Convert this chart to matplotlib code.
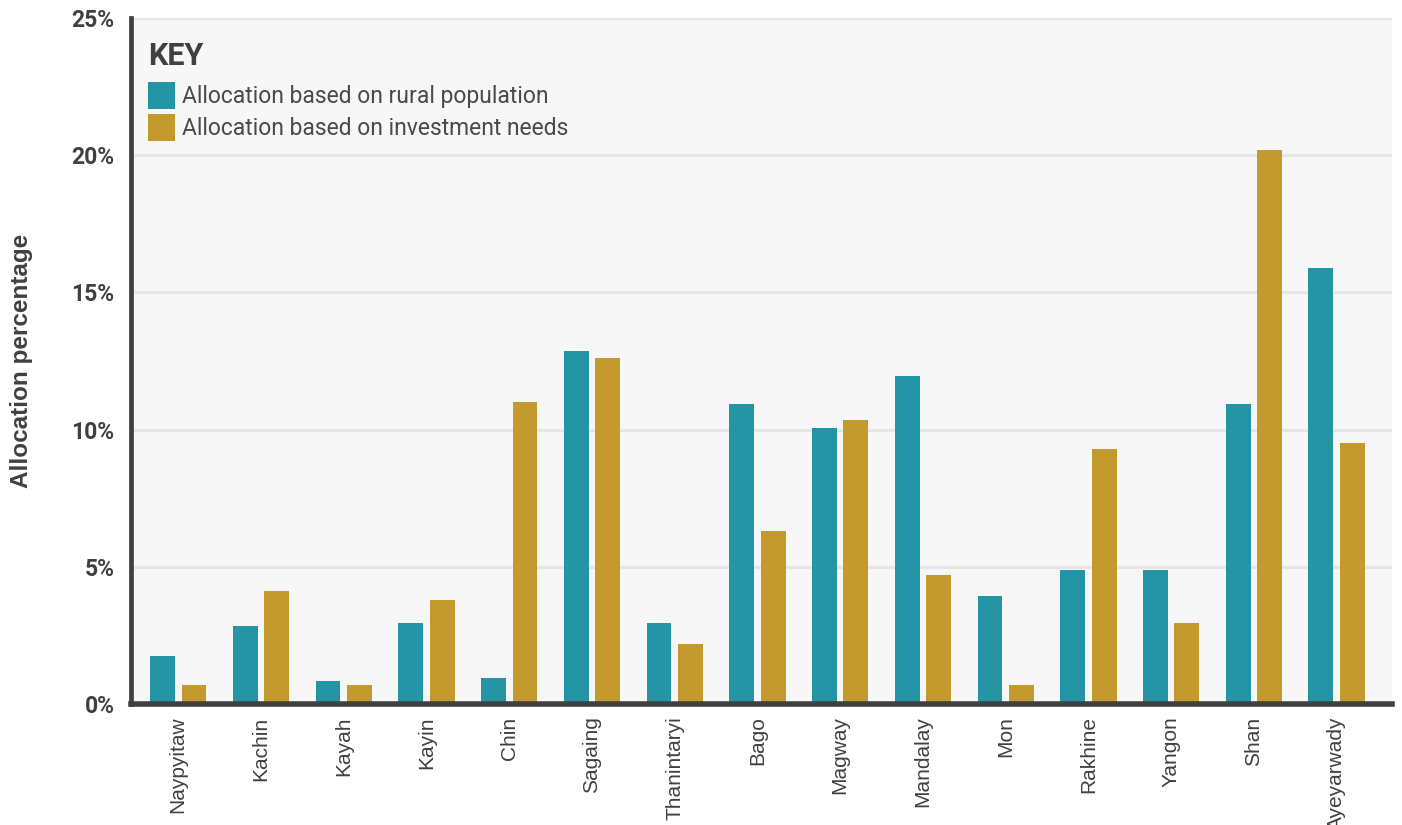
# Rural allocation vs investment-needs allocation by state/region
import numpy as np
import matplotlib.pyplot as plt
from matplotlib.patches import Patch
from matplotlib.ticker import FuncFormatter

# ====== DATA ======
regions = ["Naypyitaw", "Kachin", "Kayah", "Kayin", "Chin", "Sagaing", "Thanintaryi",
           "Bago", "Magway", "Mandalay", "Mon", "Rakhine", "Yangon", "Shan", "Ayeyarwady"]
rural_pop = [1.75, 2.85, 0.85, 2.95, 0.95, 12.85, 2.95, 10.95, 10.05, 11.95, 3.95, 4.9, 4.9, 10.95, 15.9]
invest_needs = [0.7, 4.1, 0.7, 3.8, 11.0, 12.6, 2.2, 6.3, 10.35, 4.7, 0.7, 9.3, 2.95, 20.2, 9.5]
yticks = [0, 5, 10, 15, 20, 25]
labels = ["Allocation based on rural population", "Allocation based on investment needs"]
# ==================

teal = "#2395a4"
gold = "#c4992d"
dark = "#404040"

fig = plt.figure(figsize=(14.02, 8.25), dpi=100)
ax = fig.add_axes([0.0935, 0.1467, 0.8994, 0.8313])
ax.set_facecolor("#f7f7f7")

x = np.arange(len(regions))
w = 0.30
ax.bar(x - 0.19, rural_pop, width=w, color=teal, zorder=3)
ax.bar(x + 0.19, invest_needs, width=w, color=gold, zorder=3)

ax.set_xlim(-0.57, 14.67)
ax.set_ylim(0, 25)
ax.set_yticks(yticks)
ax.yaxis.set_major_formatter(FuncFormatter(lambda v, p: f"{v:.0f}%"))
ax.grid(axis="y", color="#e6e6e6", linewidth=2.2, zorder=1)

for s in ["top", "right"]:
    ax.spines[s].set_visible(False)
ax.spines["left"].set_color(dark)
ax.spines["left"].set_linewidth(3.4)
ax.spines["bottom"].set_color(dark)
ax.spines["bottom"].set_linewidth(4)
ax.spines["left"].set_zorder(4)
ax.spines["bottom"].set_zorder(4)

ax.set_xticks(x)
ax.set_xticklabels(regions, rotation=90, fontsize=15, color=dark, family="Liberation Sans")
ax.tick_params(axis="x", length=0, pad=9)
ax.tick_params(axis="y", length=0, pad=12, labelsize=16.5, labelcolor=dark)
for t in ax.get_yticklabels():
    t.set_family("Roboto")
    t.set_fontweight("bold")

ax.set_ylabel("Allocation percentage", fontsize=17.5, fontweight="bold", color=dark,
              family="Liberation Sans")
ax.yaxis.set_label_coords(-0.078, 0.5)

# legend: title drawn separately so its gap to the entries can be set
ax.text(0.0138, 0.9315, "KEY", transform=ax.transAxes, ha="left", va="baseline",
        family="Roboto", fontweight="bold", fontsize=22, color=dark)
handles = [Patch(facecolor=teal), Patch(facecolor=gold)]
leg = ax.legend(handles, labels, loc="upper left", frameon=False,
                prop={"family": "Roboto", "weight": "normal", "size": 16.5},
                handlelength=1.18, handleheight=1.43,
                handletextpad=0.3, labelspacing=0.2, borderpad=0, borderaxespad=0,
                bbox_to_anchor=(0.0135, 0.9067))
for t in leg.get_texts():
    t.set_color("#4a4a4a")

fig.savefig("out.png", dpi=100)
